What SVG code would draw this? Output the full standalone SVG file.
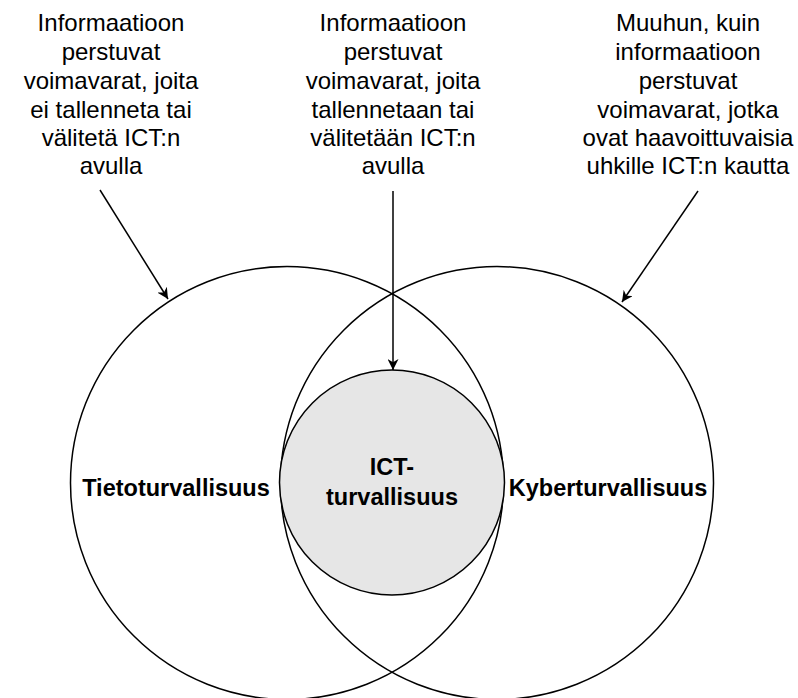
<svg xmlns="http://www.w3.org/2000/svg" width="798" height="698" viewBox="0 0 798 698">
<style>
.lbl{font-family:"Liberation Sans",Arial,sans-serif;font-size:24px;fill:#000;text-anchor:middle}
.b{font-family:"Liberation Sans",Arial,sans-serif;font-size:23.5px;font-weight:bold;fill:#000;text-anchor:middle}
.c{fill:none;stroke:#000;stroke-width:1.5}
.e{stroke:#000;stroke-width:1.5;fill:none}
</style>
<defs>
<marker id="ah" viewBox="0 0 10 10" refX="10" refY="5" markerWidth="11" markerHeight="11" markerUnits="userSpaceOnUse" orient="auto">
<path d="M0,0 L10,5 L0,10 L3,5 z" fill="#000"/>
</marker>
</defs>
<g id="tietoturvallisuus">
<circle class="c" cx="287" cy="483" r="216.5"/>
<text class="b" x="176" y="496">Tietoturvallisuus</text>
</g>
<g id="kyberturvallisuus">
<circle class="c" cx="497" cy="483" r="216.5"/>
<text class="b" x="608" y="496">Kyberturvallisuus</text>
</g>
<g id="ict">
<circle cx="392" cy="482.5" r="112.5" fill="#e6e6e6" stroke="#000" stroke-width="1.5"/>
<text class="b" x="392" y="475">ICT-</text>
<text class="b" x="392" y="505">turvallisuus</text>
</g>
<g id="label-left">
<text class="lbl" x="111" y="31">Informaatioon</text>
<text class="lbl" x="111" y="60">perstuvat</text>
<text class="lbl" x="111" y="89">voimavarat, joita</text>
<text class="lbl" x="111" y="118">ei tallenneta tai</text>
<text class="lbl" x="111" y="146">välitetä ICT:n</text>
<text class="lbl" x="111" y="174">avulla</text>
</g>
<g id="label-middle">
<text class="lbl" x="393" y="31">Informaatioon</text>
<text class="lbl" x="393" y="60">perstuvat</text>
<text class="lbl" x="393" y="89">voimavarat, joita</text>
<text class="lbl" x="393" y="118">tallennetaan tai</text>
<text class="lbl" x="393" y="146">välitetään ICT:n</text>
<text class="lbl" x="393" y="174">avulla</text>
</g>
<g id="label-right">
<text class="lbl" x="688" y="31">Muuhun, kuin</text>
<text class="lbl" x="688" y="60">informaatioon</text>
<text class="lbl" x="688" y="89">perstuvat</text>
<text class="lbl" x="688" y="118">voimavarat, jotka</text>
<text class="lbl" x="688" y="146">ovat haavoittuvaisia</text>
<text class="lbl" x="688" y="174">uhkille ICT:n kautta</text>
</g>
<g id="connectors">
<line class="e" x1="100" y1="190" x2="168" y2="299" marker-end="url(#ah)"/>
<line class="e" x1="393" y1="191" x2="393" y2="370" marker-end="url(#ah)"/>
<line class="e" x1="698" y1="191" x2="622" y2="302" marker-end="url(#ah)"/>
</g>
</svg>
